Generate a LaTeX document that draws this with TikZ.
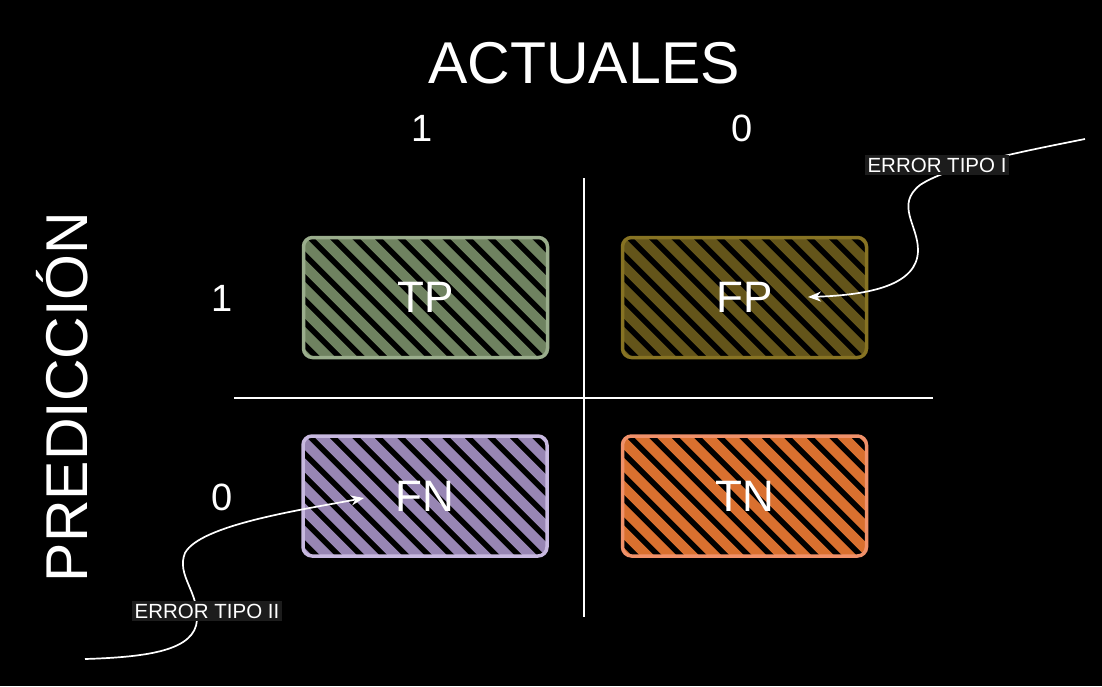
\documentclass[tikz,border=0pt]{standalone}
\usepackage{fontspec}
\setmainfont{Liberation Sans}
\usetikzlibrary{arrows.meta}
\definecolor{tpS}{HTML}{9AAD8C}\definecolor{tpH}{HTML}{6F8260}
\definecolor{fpS}{HTML}{877323}\definecolor{fpH}{HTML}{64551A}
\definecolor{fnS}{HTML}{C8B9E0}\definecolor{fnH}{HTML}{9886B4}
\definecolor{tnS}{HTML}{F0916A}\definecolor{tnH}{HTML}{D9702F}
\definecolor{lblbg}{HTML}{1C1C1C}
\tikzset{
  cellbox/.style n args={2}{draw=#1, line width=3.5pt, rounded corners=9pt, fill=black,
    minimum width=244pt, minimum height=120pt, inner sep=0pt, text=white,
    font=\fontsize{44}{50}\selectfont,
    path picture={\foreach \k in {-12,...,7}
      \draw[line width=10pt, line cap=round, draw=#2]
        ([xshift=\k*22.5pt, yshift=8pt]path picture bounding box.north) -- ++(145pt,-145pt);}},
  axislbl/.style={text=white, font=\fontsize{38}{44}\selectfont, inner sep=0pt},
  title/.style={text=white, font=\fontsize{59}{66}\selectfont, inner sep=0pt},
  divider/.style={draw=white, line width=2.5pt},
  errlbl/.style={fill=lblbg, text=white, font=\fontsize{20.5}{24}\selectfont, inner xsep=3pt, inner ysep=3pt},
  errarrow/.style={draw=white, line width=1.7pt, -{Stealth[length=13pt,width=10pt]}}
}
\begin{document}
\begin{tikzpicture}[x=1pt,y=-1pt]
\fill[black] (0,0) rectangle (1102,686);
\useasboundingbox (0,0) rectangle (1102,686);
% titles
\node[title] (act) at (584,63) {ACTUALES};
\node[title, rotate=90] (pred) at (62,397) {PREDICCIÓN};
\node[axislbl] (c1) at (422,128) {1};
\node[axislbl] (c0) at (742,128) {0};
\node[axislbl] (r1) at (222,298) {1};
\node[axislbl] (r0) at (222,497) {0};
% dividers
\coordinate (vt) at (584,178); \coordinate (vb) at (584,617);
\coordinate (hl) at (234,398); \coordinate (hr) at (933,398);
\draw[divider] (vt) -- (vb);
\draw[divider] (hl) -- (hr);
% boxes
\node[cellbox={tpS}{tpH}] (tp) at (425.5,297.5) {TP};
\node[cellbox={fpS}{fpH}] (fp) at (744.5,297.5) {FP};
\node[cellbox={fnS}{fnH}] (fn) at (425,496) {FN};
\node[cellbox={tnS}{tnH}] (tn) at (744.5,496) {TN};
% error arrows
\coordinate (e1s) at (1085,139);
\coordinate (e1e) at (808,297);
\draw[errarrow] (e1s) .. controls (1030,150) and (950,165) .. (920,185)
  .. controls (895,205) and (918,225) .. (918,250)
  .. controls (918,285) and (870,295) .. (e1e);
\coordinate (e2s) at (85,659);
\coordinate (e2e) at (364,498);
\draw[errarrow] (e2s) .. controls (150,657) and (195,650) .. (197,620)
  .. controls (199,592) and (176,575) .. (185,553)
  .. controls (200,525) and (300,510) .. (e2e);
\node[errlbl] (err1) at (937,165) {ERROR TIPO I};
\node[errlbl] (err2) at (207,611) {ERROR TIPO II};
\end{tikzpicture}
\end{document}
